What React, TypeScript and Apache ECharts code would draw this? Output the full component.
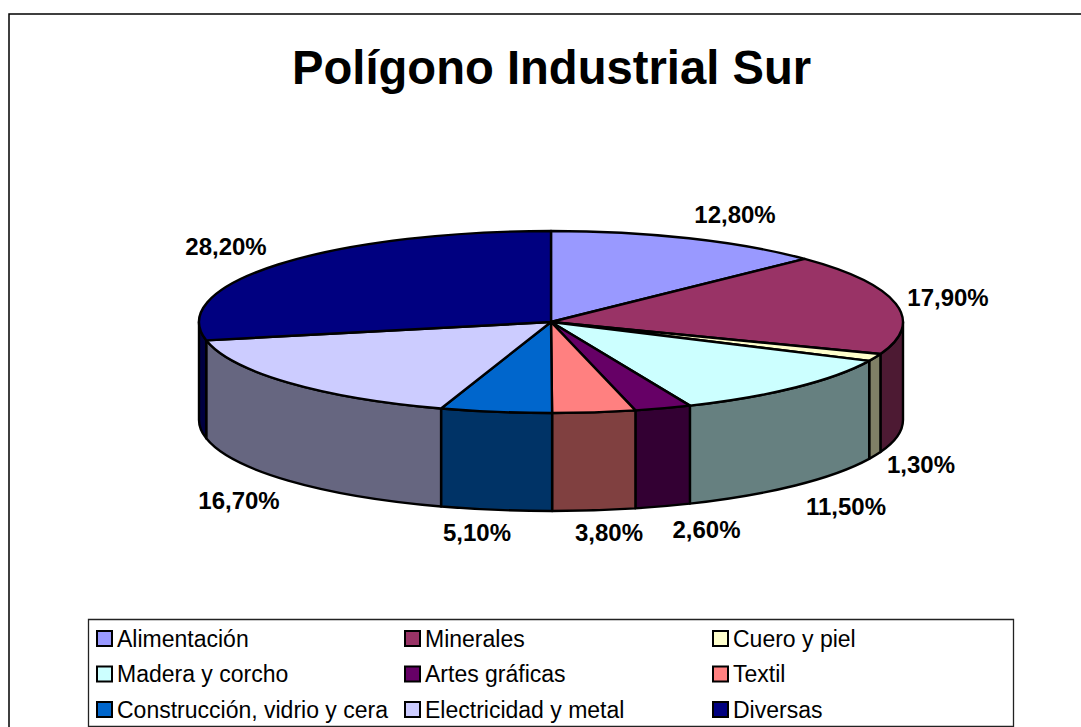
import React, { useEffect, useRef } from "react";
import * as echarts from "echarts";

const titleText = "Polígono Industrial Sur";
const categories = [
  "Alimentación", "Minerales", "Cuero y piel",
  "Madera y corcho", "Artes gráficas", "Textil",
  "Construcción, vidrio y cera", "Electricidad y metal", "Diversas",
];
const values = [12.8, 17.9, 1.3, 11.5, 2.6, 3.8, 5.1, 16.7, 28.2];
const topColors = ["#9999FF", "#993366", "#FFFFCC", "#CCFFFF", "#660066", "#FF8080", "#0066CC", "#CCCCFF", "#000080"];
const wallColors = ["#4D4D80", "#4D1A33", "#808066", "#668080", "#330033", "#804040", "#003366", "#666680", "#000040"];
const labelCenters = [
  [735, 214.5], [948, 297.5], [921, 464.5], [846, 506.5], [706.5, 529.5],
  [609, 532.5], [477, 532.5], [239, 500.5], [226, 246.5],
];

const FONT = '"Liberation Sans", Arial, sans-serif';
const CX = 551, CY = 322, RX = 352, RY = 91, DEPTH = 98;
const total = values.reduce((a, b) => a + b, 0);

const pt = (deg: number, dy = 0) => {
  const r = (deg * Math.PI) / 180;
  return [CX + RX * Math.sin(r), CY - RY * Math.cos(r) + dy];
};
const arc = (to: number[], large: boolean, sweep: number) =>
  `A ${RX} ${RY} 0 ${large ? 1 : 0} ${sweep} ${to[0]} ${to[1]}`;

function renderSlice(index: number) {
  return (_params: any, api: any) => {
    const before = values.slice(0, index).reduce((a, b) => a + b, 0);
    const a0 = (before / total) * 360;
    const a1 = a0 + (api.value(0) / total) * 360;
    const children: any[] = [];
    const w0 = Math.max(a0, 90), w1 = Math.min(a1, 270);
    if (w1 > w0) {
      const p0 = pt(w0), p1 = pt(w1), q0 = pt(w0, DEPTH), q1 = pt(w1, DEPTH);
      children.push({
        type: "path",
        shape: { pathData: `M ${p0[0]} ${p0[1]} ${arc(p1, w1 - w0 > 180, 1)} L ${q1[0]} ${q1[1]} ${arc(q0, w1 - w0 > 180, 0)} Z` },
        style: { fill: wallColors[index], stroke: "#000", lineWidth: 2.4, lineJoin: "round" },
      });
    }
    const s = pt(a0), e = pt(a1);
    children.push({
      type: "path",
      shape: { pathData: `M ${CX} ${CY} L ${s[0]} ${s[1]} ${arc(e, a1 - a0 > 180, 1)} Z` },
      style: { fill: topColors[index], stroke: "#000", lineWidth: 2.4, lineJoin: "round" },
    });
    children.push({
      type: "text",
      style: {
        x: labelCenters[index][0],
        y: labelCenters[index][1],
        text: api.value(0).toFixed(2).replace(".", ",") + "%",
        font: `bold 24px ${FONT}`,
        fill: "#000",
        align: "center",
        verticalAlign: "middle",
      },
    });
    return { type: "group", children };
  };
}

const legendColumn = (left: number, start: number) => ({
  show: true,
  orient: "vertical" as const,
  left,
  top: 627,
  height: 99,
  padding: 0,
  itemWidth: 15,
  itemHeight: 15,
  itemGap: 12.5,
  selectedMode: false,
  icon: "rect",
  data: [0, 3, 6].map((r) => categories[r + start]),
  textStyle: { fontFamily: FONT, fontSize: 23, color: "#000", padding: 0, lineHeight: 21 },
  itemStyle: { borderColor: "#000", borderWidth: 2 },
});

export default function App() {
  const ref = useRef<HTMLDivElement>(null);
  useEffect(() => {
    const chart = echarts.init(ref.current!, undefined, { renderer: "svg" });
    chart.setOption({
      animation: false,
      backgroundColor: "#fff",
      title: {
        text: titleText,
        left: 292,
        top: 44,
        padding: 0,
        textStyle: { fontFamily: FONT, fontSize: 47.2, fontWeight: "bold", color: "#000" },
      },
      legend: [legendColumn(96, 0), legendColumn(404, 1), legendColumn(712, 2)],
      graphic: [
        { type: "polyline", shape: { points: [[9, 727], [9, 14], [1081, 14]] }, style: { stroke: "#000", lineWidth: 1.5, fill: "none" }, silent: true },
        { type: "rect", shape: { x: 88.5, y: 619.5, width: 925, height: 107 }, style: { stroke: "#222", lineWidth: 1.3, fill: "none" }, silent: true },
      ],
      series: categories.map((name, i) => ({
        type: "custom",
        name,
        coordinateSystem: "none",
        data: [values[i]],
        itemStyle: { color: topColors[i] },
        renderItem: renderSlice(i),
      })),
    });
    return () => chart.dispose();
  }, []);
  return <div ref={ref} style={{ position: "absolute", left: 0, top: 0, width: 1081, height: 727 }} />;
}
